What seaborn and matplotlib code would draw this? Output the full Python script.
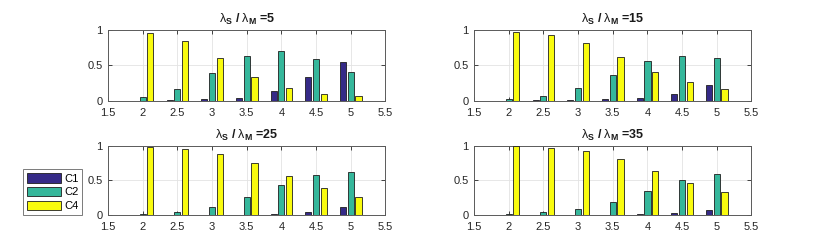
import numpy as np
import pandas as pd
import matplotlib
matplotlib.use("Agg")
import matplotlib.pyplot as plt
import seaborn as sns

# ---------------- data ----------------
x_values = [2.0, 2.5, 3.0, 3.5, 4.0, 4.5, 5.0]
series_names = ["C1", "C2", "C4"]
ratios = [5, 15, 25, 35]

c1_r5 = [0.000, 0.010, 0.020, 0.044, 0.140, 0.330, 0.550]
c2_r5 = [0.054, 0.170, 0.400, 0.640, 0.705, 0.595, 0.410]
c4_r5 = [0.965, 0.850, 0.610, 0.340, 0.180, 0.100, 0.063]

c1_r15 = [0.000, 0.004, 0.010, 0.020, 0.040, 0.096, 0.220]
c2_r15 = [0.030, 0.070, 0.180, 0.370, 0.560, 0.640, 0.610]
c4_r15 = [0.970, 0.930, 0.820, 0.620, 0.410, 0.260, 0.170]

c1_r25 = [0.000, 0.004, 0.006, 0.010, 0.020, 0.048, 0.125]
c2_r25 = [0.024, 0.048, 0.120, 0.255, 0.430, 0.580, 0.620]
c4_r25 = [0.985, 0.957, 0.885, 0.745, 0.560, 0.385, 0.265]

c1_r35 = [0.000, 0.003, 0.004, 0.006, 0.015, 0.030, 0.077]
c2_r35 = [0.015, 0.040, 0.087, 0.190, 0.350, 0.500, 0.590]
c4_r35 = [0.990, 0.960, 0.920, 0.810, 0.640, 0.470, 0.340]

x_ticks = [1.5, 2, 2.5, 3, 3.5, 4, 4.5, 5, 5.5]
x_tick_labels = ["1.5", "2", "2.5", "3", "3.5", "4", "4.5", "5", "5.5"]
y_ticks = [0, 0.5, 1]
y_tick_labels = ["0", "0.5", "1"]

panel_data = {
    5: (c1_r5, c2_r5, c4_r5),
    15: (c1_r15, c2_r15, c4_r15),
    25: (c1_r25, c2_r25, c4_r25),
    35: (c1_r35, c2_r35, c4_r35),
}

colors = ["#352A87", "#35B79B", "#F9FB0E"]

# ---------------- figure ----------------
plt.rcParams["font.family"] = ["Liberation Sans", "DejaVu Sans"]
plt.rcParams["mathtext.fontset"] = "custom"
plt.rcParams["mathtext.rm"] = "Liberation Sans"
plt.rcParams["mathtext.bf"] = "Liberation Sans:bold"
plt.rcParams["mathtext.it"] = "Liberation Sans:italic"

fig = plt.figure(figsize=(8.30, 2.42), dpi=100)

positions = [
    [0.1301, 0.5839, 0.3343, 0.2909],
    [0.5711, 0.5839, 0.3343, 0.2909],
    [0.1301, 0.1107, 0.3343, 0.2873],
    [0.5711, 0.1107, 0.3343, 0.2873],
]

handles = None
for pos, r in zip(positions, ratios):
    ax = fig.add_axes(pos)
    c1, c2, c4 = panel_data[r]
    df = pd.DataFrame({
        "x": x_values * 3,
        "value": list(c1) + list(c2) + list(c4),
        "series": ["C1"] * 7 + ["C2"] * 7 + ["C4"] * 7,
    })
    sns.barplot(data=df, x="x", y="value", hue="series", hue_order=series_names,
                palette=colors, native_scale=True, width=0.6667, gap=0.2,
                saturation=1, errorbar=None, edgecolor="#1e1e1e", linewidth=0.6,
                legend=True, ax=ax, zorder=3)
    if handles is None:
        handles, labels = ax.get_legend_handles_labels()
    if ax.get_legend() is not None:
        ax.get_legend().remove()

    ax.set_xlim(1.5, 5.5)
    ax.set_ylim(0, 1)
    ax.set_xticks(x_ticks)
    ax.set_xticklabels(x_tick_labels)
    ax.set_yticks(y_ticks)
    ax.set_yticklabels(y_tick_labels)
    ax.set_xlabel("")
    ax.set_ylabel("")
    ax.grid(True, color="#e3e3e3", linewidth=0.6, zorder=0)
    ax.set_axisbelow(True)
    ax.tick_params(direction="in", length=3, width=0.6, top=True, right=True,
                   labelsize=8, colors="#262626")
    ax.tick_params(axis="x", pad=5)
    ax.tick_params(axis="y", pad=4)
    for sp in ax.spines.values():
        sp.set_color("#5a5a5a")
        sp.set_linewidth(0.7)
    ax.set_title(r"$\mathrm{\lambda}_\mathbf{S}$ / $\mathrm{\lambda}_\mathbf{M}$ =" + str(r),
                 fontsize=9, fontweight="bold", color="#1a1a1a", pad=5)

leg = fig.legend(handles, series_names, loc="lower left",
                 bbox_to_anchor=(0.0281, 0.1103), borderaxespad=0,
                 fontsize=8, handlelength=3.0, handleheight=0.95,
                 handletextpad=0.3, labelspacing=0.3, borderpad=0.35,
                 fancybox=False, framealpha=1, edgecolor="#7a7a7a")
leg.get_frame().set_linewidth(0.7)

fig.savefig("out.png", dpi=100)
